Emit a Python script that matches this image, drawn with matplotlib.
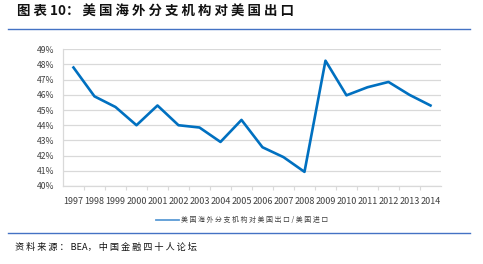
import matplotlib
matplotlib.use('Agg')
import matplotlib.pyplot as plt
from matplotlib.lines import Line2D

plt.rcParams['font.family'] = ['Noto Sans CJK SC', 'DejaVu Sans']

years = [str(y) for y in range(1997, 2015)]
share = [47.8, 45.9, 45.2, 44.0, 45.3, 44.0, 43.85, 42.9, 44.35,
         42.55, 41.9, 40.93, 48.25, 45.97, 46.5, 46.85, 46.0, 45.3]
yticks = list(range(40, 50))

title = '图 表 10： 美 国 海 外 分 支 机 构 对 美 国 出 口'
series_name = '美 国 海 外 分 支 机 构 对 美 国 出 口 / 美 国 进 口'
source = '资 料 来 源 ： BEA， 中 国 金 融 四 十 人 论 坛'

fig = plt.figure(figsize=(4.83, 2.64), dpi=100)
ax = fig.add_axes([0.1304, 0.2955, 0.913 - 0.1304, 0.8133 - 0.2955])

x = list(range(len(years)))
ax.plot(x, share, color='#0070C0', lw=1.9)

ax.set_xlim(-0.5, len(years) - 0.5)
ax.set_ylim(40, 49)
ax.set_yticks(yticks)
ax.set_yticklabels([f'{v}%' for v in yticks])
ax.set_xticks(x)
ax.set_xticklabels(years)
ax.set_xticks([i + 0.5 for i in x[:-1]], minor=True)

ax.grid(axis='y', color='#D9D9D9', lw=0.9)
ax.set_axisbelow(True)
for s in ['top', 'right']:
    ax.spines[s].set_visible(False)
for s in ['left', 'bottom']:
    ax.spines[s].set_color('#D9D9D9')
    ax.spines[s].set_linewidth(0.9)
ax.tick_params(axis='y', length=0, labelsize=6.2, labelcolor='#404040', pad=6)
ax.tick_params(axis='x', which='major', length=0, labelsize=6.5, labelcolor='#404040', pad=8)
ax.tick_params(axis='x', which='minor', length=3, color='#D9D9D9', width=0.8)

# legend below the axis
leg = ax.legend([Line2D([], [], color='#5B9BD5', lw=1.3)], [series_name],
                loc='center', bbox_to_anchor=(0.475, -0.25), frameon=False,
                fontsize=5, handlelength=3.2, handletextpad=0.4)
for t in leg.get_texts():
    t.set_color('#404040')

# title, rules and source
fig.text(17 / 483, 1 - 12 / 264, title, fontsize=9.7, fontweight='bold',
         va='center', ha='left', color='#111111')
fig.add_artist(Line2D([8 / 483, 470 / 483], [1 - 29 / 264] * 2, color='#4472C4', lw=1.0))
fig.add_artist(Line2D([8 / 483, 470 / 483], [1 - 233 / 264] * 2, color='#4472C4', lw=1.0))
fig.text(15 / 483, 1 - 247 / 264, source, fontsize=6.6, style='italic',
         va='center', ha='left', color='#111111')

fig.savefig('out.png', dpi=100)
